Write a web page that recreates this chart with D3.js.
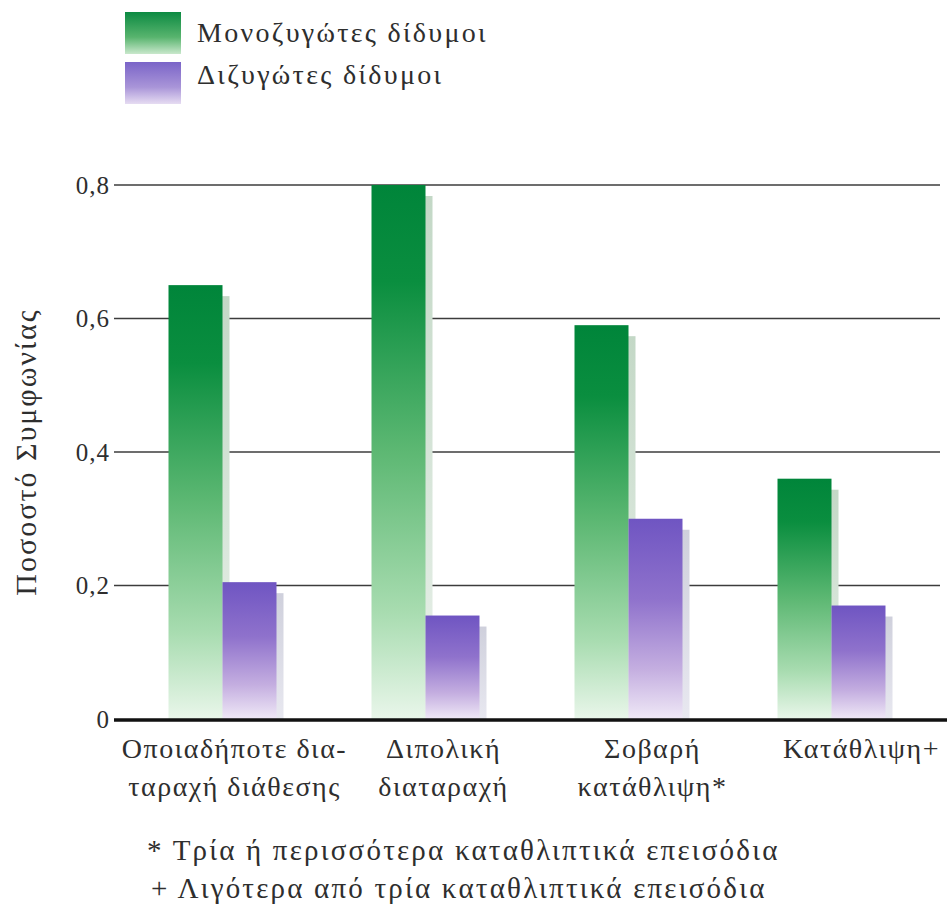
<!DOCTYPE html>
<html>
<head>
<meta charset="utf-8">
<script src="https://cdn.jsdelivr.net/npm/d3@7"></script>
</head>
<body style="margin:0">
<svg id="chart" width="947" height="907"></svg>
<script>
// Concordance rates for mood disorders in identical vs fraternal twins
const categories = ["any", "bipolar", "severe", "depression"];
const categoryLines = [
  ["Οποιαδήποτε δια-", "ταραχή διάθεσης"],
  ["Διπολική", "διαταραχή"],
  ["Σοβαρή", "κατάθλιψη*"],
  ["Κατάθλιψη+"]
];
const seriesNames = ["Μονοζυγώτες δίδυμοι", "Διζυγώτες δίδυμοι"];
const monozygotic = [0.65, 0.80, 0.59, 0.36];
const dizygotic = [0.205, 0.155, 0.30, 0.17];
const yTicks = [0, 0.2, 0.4, 0.6, 0.8];
const yTickLabels = ["0", "0,2", "0,4", "0,6", "0,8"];
const yTitle = "Ποσοστό Συμφωνίας";
const footnotes = [
  "* Τρία ή περισσότερα καταθλιπτικά επεισόδια",
  "+ Λιγότερα από τρία καταθλιπτικά επεισόδια"
];

const FACE = "Liberation Serif";
const INK = "#2e2e2e";

// ask for the book face early so its glyphs are ready when the text is laid out
const probe = document.createElement("canvas").getContext("2d");
probe.font = `28px "${FACE}"`;
probe.measureText(seriesNames.join(" ") + footnotes.join(" ") + yTitle);

// set a text node in the book face
function book(sel, size, spacing) {
  return sel.attr("font-family", FACE)
    .attr("font-size", size)
    .attr("letter-spacing", spacing)
    .attr("fill", INK);
}

const svg = d3.select("#chart").attr("font-family", FACE);
const defs = svg.append("defs");

// Vertical fades: saturated at the top of each bar, pale near the baseline
function fade(id, stops) {
  const g = defs.append("linearGradient").attr("id", id)
    .attr("x1", 0).attr("y1", 0).attr("x2", 0).attr("y2", 1);
  stops.forEach(([o, c]) => g.append("stop").attr("offset", o).attr("stop-color", c));
}
fade("gGreen", [[0, "#00853a"], [0.18, "#0a8e3f"], [0.5, "#5db873"], [0.8, "#a8dcb0"], [1, "#e9f6ea"]]);
fade("gPurple", [[0, "#6f55c2"], [0.4, "#8f72cc"], [0.75, "#c4aee0"], [1, "#efe8f6"]]);
fade("gGreenShadow", [[0, "#c3d8c6"], [1, "#e9f1ea"]]);
fade("gPurpleShadow", [[0, "#cfd0dc"], [1, "#e8e8f0"]]);
fade("gGreenKey", [[0, "#0c8a42"], [0.6, "#58b46e"], [1, "#c9e8cc"]]);
fade("gPurpleKey", [[0, "#7a64c8"], [0.6, "#a995d8"], [1, "#e6dcf2"]]);

const fills = ["url(#gGreen)", "url(#gPurple)"];
const shadowFills = ["url(#gGreenShadow)", "url(#gPurpleShadow)"];
const keyFills = ["url(#gGreenKey)", "url(#gPurpleKey)"];

const y = d3.scaleLinear().domain([0, 0.8]).range([719, 185]);
const x0 = d3.scaleBand().domain(categories).range([121, 933])
  .paddingInner(0.468).paddingOuter(0.234);
const x1 = d3.scaleBand().domain([0, 1]).range([0, x0.bandwidth()]);

// Horizontal gridlines (behind the bars)
svg.append("g").selectAll("line")
  .data(yTicks.filter(t => t > 0))
  .join("line")
  .attr("x1", 114).attr("x2", 940)
  .attr("y1", d => y(d)).attr("y2", d => y(d))
  .attr("stroke", "#3c3c3c").attr("stroke-width", 1.6);

// Y axis tick labels
const yAxis = d3.axisLeft(y).tickValues(yTicks)
  .tickFormat((d, i) => yTickLabels[i]).tickSize(0).tickPadding(0);
const yg = svg.append("g").attr("transform", "translate(110,0)").call(yAxis);
yg.select(".domain").remove();
yg.attr("font-family", FACE).attr("font-size", 25);
book(yg.selectAll("text"), 25, 1).attr("dy", "0.32em");

// Y axis title
book(svg.append("text"), 30, 2)
  .attr("transform", `translate(36,${(y(0) + y(0.8)) / 2}) rotate(-90)`)
  .attr("text-anchor", "middle")
  .text(yTitle);

// Bars with their soft drop shadows
const rows = categories.map((c, i) => ({ c, vals: [monozygotic[i], dizygotic[i]] }));
const groups = svg.append("g").selectAll("g")
  .data(rows).join("g")
  .attr("transform", d => `translate(${x0(d.c)},0)`);

// shadows first, so the neighbouring bar covers them
groups.selectAll("rect.shadow")
  .data(d => d.vals.map((v, s) => ({ v, s })))
  .join("rect").attr("class", "shadow")
  .attr("x", d => x1(d.s) + 7)
  .attr("y", d => y(d.v) + 11)
  .attr("width", x1.bandwidth())
  .attr("height", d => y(0) - y(d.v) - 11)
  .attr("fill", d => shadowFills[d.s]);

groups.selectAll("rect.bar")
  .data(d => d.vals.map((v, s) => ({ v, s })))
  .join("rect").attr("class", "bar")
  .attr("x", d => x1(d.s))
  .attr("y", d => y(d.v))
  .attr("width", x1.bandwidth())
  .attr("height", d => y(0) - y(d.v))
  .attr("fill", d => fills[d.s]);

// Baseline
svg.append("line")
  .attr("x1", 114).attr("x2", 947)
  .attr("y1", y(0) + 1).attr("y2", y(0) + 1)
  .attr("stroke", "#111").attr("stroke-width", 3.5);

// Category labels, set slightly right of each bar pair
categories.forEach((c, i) => {
  const cx = x0(c) + x0.bandwidth() / 2 + 12 + 6 * i;
  const t = book(svg.append("text"), 28, 1.5)
    .attr("x", cx).attr("y", 758)
    .attr("text-anchor", "middle");
  categoryLines[i].forEach((line, j) => {
    t.append("tspan").attr("x", cx).attr("dy", j === 0 ? 0 : 38).text(line);
  });
});

// Footnotes
book(svg.append("g").selectAll("text")
  .data(footnotes).join("text"), 29, 2.2)
  .attr("x", (d, i) => 147 + i * 4)
  .attr("y", (d, i) => 860 + i * 38)
  .text(d => d);

// Legend
const legend = svg.append("g").selectAll("g")
  .data(seriesNames).join("g");
legend.append("rect")
  .attr("x", 125).attr("y", (d, i) => 12 + i * 50)
  .attr("width", 56).attr("height", 42)
  .attr("fill", (d, i) => keyFills[i]);
book(legend.append("text"), 28, 2.3)
  .attr("x", 197).attr("y", (d, i) => 42 + i * 42)
  .text(d => d);

// once the face is confirmed ready, re-apply it so the text is re-shaped with it
if (document.fonts && document.fonts.load) {
  document.fonts.load(`28px "${FACE}"`, "Μονοζυγώτες 0,8").then(() => {
    svg.selectAll("text").attr("font-family", null).attr("font-family", FACE);
  });
}
</script>
</body>
</html>
